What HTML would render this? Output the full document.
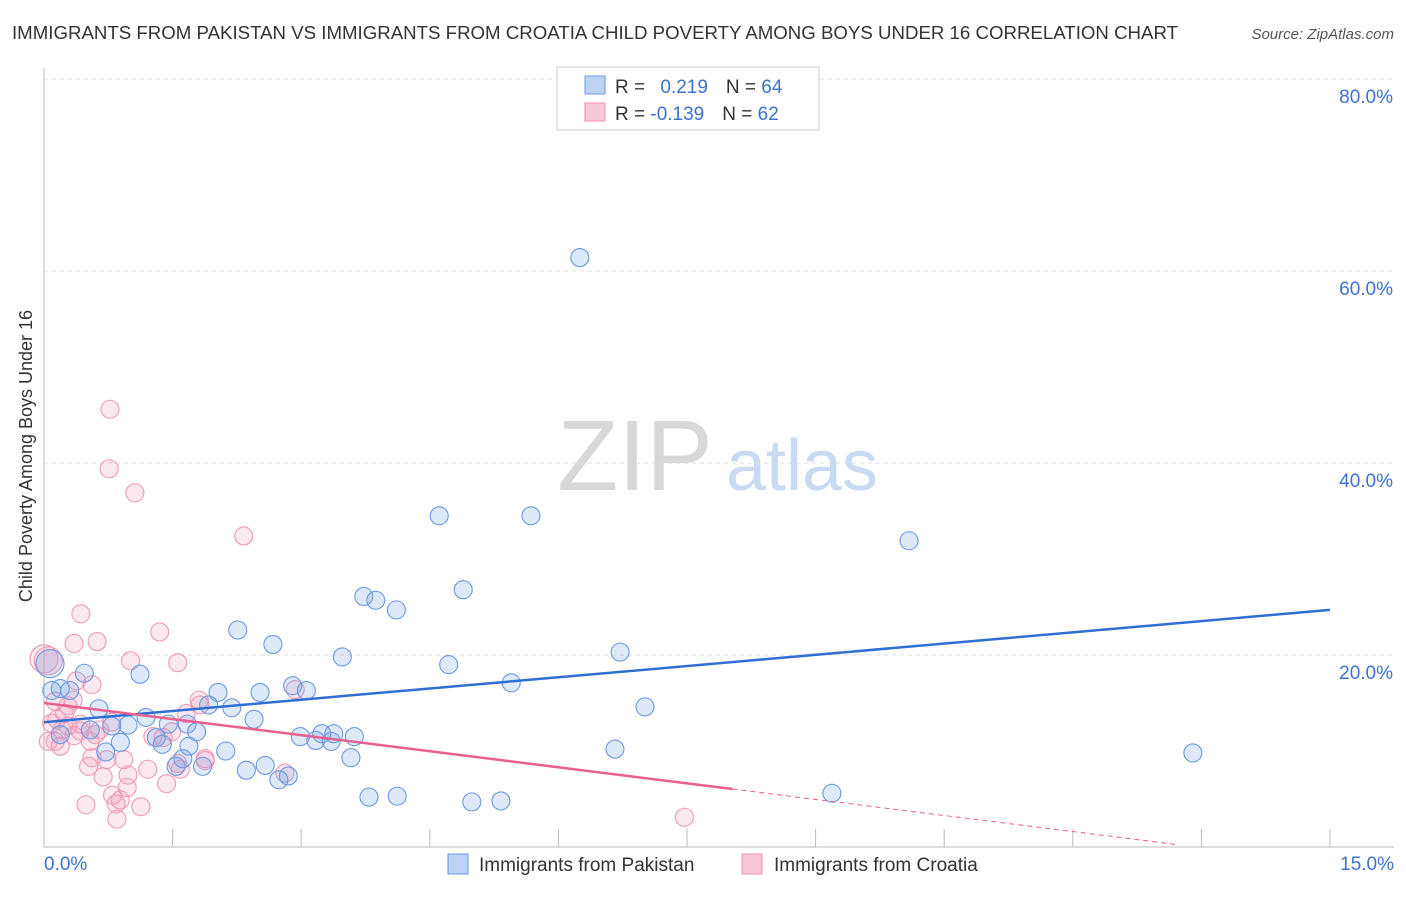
<!DOCTYPE html>
<html><head><meta charset="utf-8"><style>
body{margin:0;background:#fff;font-family:"Liberation Sans",sans-serif}
svg text{font-family:"Liberation Sans",sans-serif}
</style></head><body>
<svg id="c" width="1406" height="892">
<text x="12" y="39" font-size="18" fill="#333" textLength="1166" lengthAdjust="spacingAndGlyphs">IMMIGRANTS FROM PAKISTAN VS IMMIGRANTS FROM CROATIA CHILD POVERTY AMONG BOYS UNDER 16 CORRELATION CHART</text>
<text x="1394" y="39" font-size="15" fill="#555" font-style="italic" text-anchor="end">Source: ZipAtlas.com</text>
<text x="32" y="456" font-size="18" fill="#333" transform="rotate(-90 32 456)" text-anchor="middle">Child Poverty Among Boys Under 16</text>
<g><text x="635" y="490" font-size="100" fill="#d8d8d8" font-family="Liberation Serif" text-anchor="middle">ZIP</text><text x="802" y="490" font-size="72" fill="#c9daf2" text-anchor="middle">atlas</text></g>
<g id="grid"></g><g id="pts"></g><g id="lines"></g>
<g>
<rect x="557" y="67" width="262" height="63" fill="#fff" stroke="#ccc"/>
<rect x="585" y="76" width="20" height="18" fill="#bcd3f3" stroke="#6a9ae0"/>
<rect x="585" y="103" width="20" height="18" fill="#f9c9d8" stroke="#ee8fae"/>
<text x="615" y="93" font-size="19" fill="#333">R = <tspan fill="#3a73d0" dx="10">0.219</tspan><tspan dx="18">N = </tspan><tspan fill="#3a73d0">64</tspan></text>
<text x="615" y="120" font-size="19" fill="#333">R = <tspan fill="#3a73d0">-0.139</tspan><tspan dx="18">N = </tspan><tspan fill="#3a73d0">62</tspan></text>
</g>
<g>
<rect x="448" y="854" width="20" height="20" fill="#bcd3f3" stroke="#6a9ae0"/>
<text x="479" y="871" font-size="19" fill="#333">Immigrants from Pakistan</text>
<rect x="742" y="854" width="20" height="20" fill="#f9c9d8" stroke="#ee8fae"/>
<text x="774" y="871" font-size="19" fill="#333">Immigrants from Croatia</text>
</g>
</svg>
<script>
const xTicks=[0,1.5,3,4.5,6,7.5,9,10.5,12,13.5,15];
const yTicks=[20,40,60,80];
const blueX=[6.25,4.61,5.68,10.09,4.89,3.73,3.87,4.11,2.26,2.67,3.48,6.72,4.72,1.12,0.47,5.45,2.90,3.06,2.03,2.52,0.19,0.09,0.30,1.92,2.19,7.01,0.64,2.45,1.19,0.98,0.79,1.45,1.67,1.78,0.54,2.99,3.17,3.24,3.35,3.38,3.62,1.31,1.38,0.89,1.69,0.72,2.12,6.66,13.40,3.58,1.62,1.54,1.85,2.36,2.58,2.74,2.85,3.79,4.12,4.99,5.33,9.19,0.07,0.19];
const blueY=[61.4,34.5,34.5,31.9,26.8,26.1,25.7,24.7,22.6,21.1,19.8,20.3,19.0,18.0,18.1,17.1,16.8,16.3,16.1,16.1,16.5,16.3,16.3,14.8,14.5,14.6,14.4,13.3,13.5,12.7,12.6,12.8,12.8,12.0,12.2,11.5,11.1,11.8,11.0,11.8,11.5,11.4,10.7,10.9,10.5,9.9,10.0,10.2,9.8,9.3,9.2,8.4,8.4,8.0,8.5,7.0,7.4,5.2,5.3,4.7,4.8,5.6,19.1,11.7];
const pinkX=[0.77,0.76,1.06,2.33,0.43,0.35,0.62,1.35,1.56,1.01,0.05,0.38,0.56,2.93,1.81,1.66,0.13,0.28,0.15,0.43,0.65,0.21,0.05,0.54,0.35,0.79,1.39,1.27,1.49,0.09,0.24,0.56,0.73,0.52,0.93,1.21,1.59,1.56,1.88,2.81,0.69,0.98,0.80,0.84,0.49,0.97,1.43,1.13,0.85,7.47,0.28,0.42,0.00,0.19,0.60,1.88,0.13,0.34,0.89,1.82];
const pinkY=[45.6,39.4,36.9,32.4,24.3,21.2,21.4,22.4,19.2,19.4,19.4,17.3,16.9,16.4,15.3,13.9,15.2,14.7,13.3,12.8,12.2,12.2,11.0,11.0,11.6,13.0,11.4,11.5,12.0,12.9,13.9,9.3,9.1,8.4,9.1,8.1,8.1,8.7,9.0,7.7,7.3,7.5,5.4,4.5,4.4,6.2,6.6,4.2,2.9,3.1,12.6,12.1,19.6,10.5,11.7,9.2,11.0,15.3,4.9,14.8];
const blueTrend=[13.0,24.7];
const pinkTrend=[15.0,-1.116];
const pinkSolidEnd=8.03, pinkDashEnd=13.2;
const X=v=>44+v*(1286/15), Y=v=>847-v*9.6;
const NS="http://www.w3.org/2000/svg";
function mk(t,a,p){const e=document.createElementNS(NS,t);for(const k in a)e.setAttribute(k,a[k]);p.appendChild(e);return e;}
const grid=document.getElementById('grid'),pts=document.getElementById('pts'),lines=document.getElementById('lines'),svg=document.getElementById('c');
yTicks.forEach(t=>{
 const l=mk('line',{x1:44,x2:1394,y1:Y(t),y2:Y(t),stroke:'#ddd','stroke-dasharray':'4 4'},grid);
 
 
 const tx=mk('text',{x:1393,y:Y(t)+24,'font-size':19,fill:'#3a73d0','text-anchor':'end'},svg);
 tx.textContent=t.toFixed(1)+'%';
 
 
});
mk('line',{x1:44,x2:44,y1:68,y2:847,stroke:'#bbb'},grid);
mk('line',{x1:44,x2:1394,y1:847,y2:847,stroke:'#bbb'},grid);
xTicks.forEach(t=>{
 const l=mk('line',{x1:X(t),x2:X(t),y1:829,y2:847,stroke:'#bbb'},grid);
 
 
});
[[0,'start',44],[15,'end',1394]].forEach(([v,a,x])=>{
 const tx=mk('text',{x:x,y:870,'font-size':19,fill:'#3a73d0','text-anchor':a},svg);
 tx.textContent=v.toFixed(1)+'%';
 
 
});
function dots(xs,ys,fill,stroke,name){
 xs.forEach((x,i)=>{
  const big=(x<0.2&&ys[i]>18.5&&ys[i]<20);
  const c=mk('circle',{cx:X(x),cy:Y(ys[i]),r:big?14:9,fill:fill,stroke:stroke,'stroke-width':1.1},pts);
  
  
 });
}
dots(pinkX,pinkY,'rgba(243,150,180,0.22)','#ef9ab6','point-croatia');
dots(blueX,blueY,'rgba(120,165,232,0.25)','#6b9ae0','point-pakistan');
const bl=mk('line',{x1:X(0),y1:Y(blueTrend[0]),x2:X(15),y2:Y(blueTrend[1]),stroke:'#2f6fd3','stroke-width':2.5},lines);


const pl=mk('line',{x1:X(0),y1:Y(pinkTrend[0]),x2:X(pinkSolidEnd),y2:Y(pinkTrend[0]+pinkTrend[1]*pinkSolidEnd),stroke:'#e8608d','stroke-width':2.5},lines);


const pd=mk('line',{x1:X(pinkSolidEnd),y1:Y(pinkTrend[0]+pinkTrend[1]*pinkSolidEnd),x2:X(pinkDashEnd),y2:Y(pinkTrend[0]+pinkTrend[1]*pinkDashEnd),stroke:'#e8608d','stroke-width':1,'stroke-dasharray':'5 4'},lines);


</script>
</body></html>
